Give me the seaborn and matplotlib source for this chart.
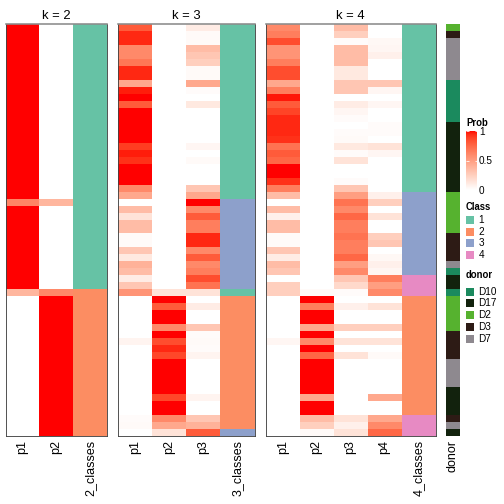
import numpy as np
import pandas as pd
import matplotlib
matplotlib.use("Agg")
import matplotlib.pyplot as plt
import seaborn as sns
from matplotlib.colors import ListedColormap
from matplotlib.patches import Rectangle
from matplotlib.cm import ScalarMappable
from matplotlib.colors import Normalize

# ---------------- data ----------------
k2_p1 = [1.0]*25 + [0.62] + [1.0]*12 + [0.38] + [0.0]*20
k2_p2 = [0.0]*25 + [0.38] + [0.0]*12 + [0.6] + [1.0]*20
k2_class = [1]*38 + [2]*21

k3_p1 = [0.8, 0.95, 0.95, 0.6, 0.6, 0.68, 0.95, 0.95, 0.45, 0.97,
         1.0, 0.8, 1.0, 1.0, 1.0, 1.0, 1.0, 0.9, 0.97, 0.93,
         1.0, 1.0, 1.0, 0.6, 0.45, 0.0, 0.35, 0.15, 0.35, 0.35,
         0.03, 0.03, 0.3, 0.12, 0.4, 0.35, 0.1, 0.3, 0.55, 0.0,
         0.0, 0.0, 0.0, 0.0, 0.0, 0.06, 0.0, 0.0, 0.0, 0.0,
         0.0, 0.0, 0.0, 0.0, 0.0, 0.0, 0.02, 0.03, 0.0]
k3_p2 = [0.0]*38 + [0.15, 1.0, 0.8, 1.0, 1.0, 0.6, 1.0, 0.85, 0.95, 0.87,
                    1.0, 1.0, 1.0, 1.0, 1.0, 0.87, 1.0, 1.0, 0.6, 0.45, 0.15]
k3_p3 = [0.1, 0.03, 0.03, 0.35, 0.3, 0.25, 0.03, 0.03, 0.45, 0.02,
         0.0, 0.12, 0.0, 0.0, 0.0, 0.0, 0.0, 0.05, 0.0, 0.03,
         0.0, 0.0, 0.0, 0.3, 0.45, 1.0, 0.6, 0.8, 0.65, 0.65,
         0.95, 0.95, 0.6, 0.8, 0.6, 0.65, 0.85, 0.7, 0.15, 0.0,
         0.1, 0.0, 0.0, 0.3, 0.02, 0.03, 0.02, 0.06, 0.0, 0.0,
         0.0, 0.0, 0.0, 0.06, 0.0, 0.0, 0.3, 0.4, 0.8]
k3_class = [1]*25 + [3]*13 + [1] + [2]*19 + [3]

k4_p1 = [0.6, 0.65, 0.85, 0.55, 0.55, 0.65, 0.85, 0.85, 0.45, 0.65,
         0.98, 0.8, 0.88, 0.95, 0.95, 0.95, 0.93, 0.7, 0.8, 0.75,
         1.0, 1.0, 0.93, 0.65, 0.35, 0.0, 0.35, 0.08, 0.35, 0.35,
         0.03, 0.03, 0.3, 0.1, 0.35, 0.3, 0.0, 0.25, 0.25, 0.0,
         0.0, 0.0, 0.0, 0.0, 0.0, 0.05, 0.0, 0.0, 0.0, 0.0,
         0.0, 0.0, 0.0, 0.0, 0.0, 0.0, 0.0, 0.0, 0.0]
k4_p2 = [0.0]*38 + [0.03, 1.0, 0.65, 1.0, 1.0, 0.45, 1.0, 0.6, 1.0, 0.75,
                    1.0, 1.0, 1.0, 1.0, 1.0, 0.45, 1.0, 1.0, 0.35, 0.25, 0.03]
k4_p3 = [0.35, 0.25, 0.02, 0.35, 0.35, 0.35, 0.12, 0.12, 0.3, 0.3,
         0.0, 0.1, 0.05, 0.02, 0.0, 0.02, 0.03, 0.12, 0.02, 0.15,
         0.0, 0.0, 0.02, 0.3, 0.5, 0.7, 0.6, 0.75, 0.65, 0.65,
         0.7, 0.65, 0.65, 0.75, 0.5, 0.6, 0.3, 0.2, 0.02, 0.0,
         0.08, 0.0, 0.0, 0.25, 0.0, 0.15, 0.0, 0.15, 0.0, 0.0,
         0.0, 0.0, 0.0, 0.0, 0.0, 0.0, 0.15, 0.08, 0.15]
k4_p4 = [0.0, 0.0, 0.04, 0.05, 0.08, 0.0, 0.0, 0.0, 0.3, 0.05,
         0.0, 0.05, 0.0, 0.0, 0.02, 0.02, 0.0, 0.15, 0.05, 0.0,
         0.0, 0.0, 0.0, 0.0, 0.08, 0.25, 0.0, 0.15, 0.0, 0.0,
         0.25, 0.3, 0.0, 0.04, 0.08, 0.05, 0.65, 0.5, 0.6, 0.0,
         0.15, 0.0, 0.0, 0.25, 0.0, 0.15, 0.0, 0.03, 0.0, 0.0,
         0.0, 0.0, 0.0, 0.45, 0.0, 0.0, 0.45, 0.6, 0.75]
k4_class = [1]*24 + [3]*12 + [4]*3 + [2]*17 + [4]*3

donor = ["D2", "D3", "D7", "D7", "D7", "D7", "D7", "D7",
         "D10", "D10", "D10", "D10", "D10", "D10",
         "D17", "D17", "D17", "D17", "D17", "D17", "D17", "D17", "D17", "D17",
         "D2", "D2", "D2", "D2", "D2", "D2",
         "D3", "D3", "D3", "D3", "D7", "D10", "D17", "D17", "D10",
         "D2", "D2", "D2", "D2", "D2",
         "D3", "D3", "D3", "D3",
         "D7", "D7", "D7", "D7",
         "D17", "D17", "D17", "D17",
         "D3", "D7", "D17"]

class_labels = ["1", "2", "3", "4"]
donor_levels = ["D10", "D17", "D2", "D3", "D7"]

# ---------------- styles ----------------
class_colors = ["#66C2A5", "#FC8D62", "#8DA0CB", "#E78AC3"]
donor_colors = ["#1B8A5E", "#12220D", "#56B22F", "#2D1B15", "#8E898F"]


def lab_to_rgb(L, a, b):
    fy = (L + 16) / 116
    fx = fy + a / 500
    fz = fy - b / 200
    def finv(t):
        return np.where(t > 6 / 29, t ** 3, 3 * (6 / 29) ** 2 * (t - 4 / 29))
    X = 0.95047 * finv(fx)
    Y = 1.0 * finv(fy)
    Z = 1.08883 * finv(fz)
    r = 3.2406 * X - 1.5372 * Y - 0.4986 * Z
    g = -0.9689 * X + 1.8758 * Y + 0.0415 * Z
    bb = 0.0557 * X - 0.2040 * Y + 1.0570 * Z
    rgb = np.stack([r, g, bb], axis=-1)
    rgb = np.where(rgb <= 0.0031308, 12.92 * rgb, 1.055 * np.clip(rgb, 0, None) ** (1 / 2.4) - 0.055)
    return np.clip(rgb, 0, 1)


t = np.linspace(0, 1, 256)[:, None]
white_lab = np.array([100.0, 0.0, 0.0])
red_lab = np.array([53.24, 80.09, 67.20])
labs = white_lab * (1 - t) + red_lab * t
prob_cmap = ListedColormap(lab_to_rgb(labs[:, 0], labs[:, 1], labs[:, 2]))

plt.rcParams['font.family'] = ['Liberation Sans', 'DejaVu Sans']

W = H = 504
fig = plt.figure(figsize=(7, 7), dpi=72)


def fx(x):
    return x / W


def fy(y):
    return 1 - y / H


top, bottom = 24, 436
panels = [
    (5.7, 107, [("p1", k2_p1), ("p2", k2_p2)], k2_class, "2_classes", "k = 2", 2),
    (118.3, 254.5, [("p1", k3_p1), ("p2", k3_p2), ("p3", k3_p3)], k3_class, "3_classes", "k = 3", 3),
    (265.7, 435.5, [("p1", k4_p1), ("p2", k4_p2), ("p3", k4_p3), ("p4", k4_p4)], k4_class, "4_classes", "k = 4", 4),
]

for x0, x1, probs, cls, cname, title, k in panels:
    ax = fig.add_axes([fx(x0), fy(bottom), fx(x1 - x0), (bottom - top) / H])
    data = {name: vals for name, vals in probs}
    data[cname] = [float(c) for c in cls]
    df = pd.DataFrame(data)
    mask_prob = np.zeros(df.shape, dtype=bool)
    mask_prob[:, -1] = True
    sns.heatmap(df, mask=mask_prob, cmap=prob_cmap, vmin=0, vmax=1, cbar=False, ax=ax)
    sns.heatmap(df, mask=~mask_prob, cmap=ListedColormap(class_colors), vmin=0.5, vmax=4.5,
                cbar=False, ax=ax)
    ax.set_xticks(np.arange(df.shape[1]) + 0.5)
    ax.set_xticklabels(df.columns, rotation=90, fontsize=12.5)
    ax.set_yticks([])
    ax.tick_params(axis='x', length=0, pad=4)
    ax.set_xlabel("")
    ax.set_ylabel("")
    for s in ax.spines.values():
        s.set_visible(True)
        s.set_color("#444444")
        s.set_linewidth(0.9)
    ax.spines["top"].set_color("#8c8c8c")
    ax.spines["top"].set_linewidth(1.6)
    ax.set_title(title, fontsize=13, pad=5)

# donor strip
axd = fig.add_axes([fx(446), fy(bottom), fx(14), (bottom - top) / H])
codes = pd.DataFrame({"donor": [donor_levels.index(d) for d in donor]})
sns.heatmap(codes, cmap=ListedColormap(donor_colors), vmin=-0.5, vmax=4.5, cbar=False, ax=axd)
axd.set_xticks([0.5])
axd.set_xticklabels(["donor"], rotation=90, fontsize=12.5)
axd.set_yticks([])
axd.tick_params(axis='x', length=0, pad=4)
axd.set_xlabel("")
axd.set_ylabel("")

# Prob legend
fig.text(fx(466), fy(123), "Prob", fontsize=9.5, fontweight="bold", va="center", ha="left")
cax = fig.add_axes([fx(466), fy(190), fx(11), (190 - 131) / H])
cb = fig.colorbar(ScalarMappable(norm=Normalize(0, 1), cmap=prob_cmap), cax=cax)
cb.outline.set_visible(False)
cb.set_ticks([0, 0.5, 1])
cb.set_ticklabels(["0", "0.5", "1"])
cax.tick_params(direction="in", colors="white", length=2.5, width=0.8, left=True, right=True,
                labelsize=10, pad=2)
for lab in cax.get_yticklabels():
    lab.set_color("black")

# Class legend
fig.text(fx(466), fy(207), "Class", fontsize=9.5, fontweight="bold", va="center", ha="left")
for i, (lab, col) in enumerate(zip(class_labels, class_colors)):
    yc = 220 + i * 11.7
    fig.add_artist(Rectangle((fx(466.3), fy(yc + 4)), fx(8), 8 / H, transform=fig.transFigure,
                             facecolor=col, edgecolor="none"))
    fig.text(fx(478.5), fy(yc), lab, fontsize=10, va="center", ha="left")

# donor legend
fig.text(fx(466), fy(275), "donor", fontsize=9.5, fontweight="bold", va="center", ha="left")
for i, (lab, col) in enumerate(zip(donor_levels, donor_colors)):
    yc = 291.7 + i * 11.7
    fig.add_artist(Rectangle((fx(466.3), fy(yc + 4)), fx(8), 8 / H, transform=fig.transFigure,
                             facecolor=col, edgecolor="none"))
    fig.text(fx(478.5), fy(yc), lab, fontsize=10, va="center", ha="left")

fig.savefig("out.png", dpi=72)
